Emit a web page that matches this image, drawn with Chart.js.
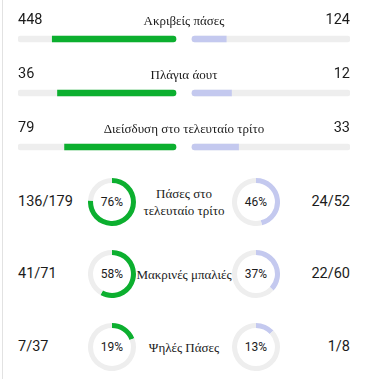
<!DOCTYPE html>
<html>
<head>
<meta charset="utf-8">
<script src="https://cdn.jsdelivr.net/npm/chart.js@4"></script>
<style>
  body { margin: 0; background: #fff; width: 366px; height: 379px; overflow: hidden; position: relative; }
  .edge { position: absolute; left: 2px; top: 0; width: 1px; height: 379px; background: #e2e2e2; }
  .num { position: absolute; font-family: Roboto, sans-serif; font-size: 14.5px; color: #1b1b1b; line-height: 18px; transform: translateY(-50%); }
  .lbl { position: absolute; font-family: "Liberation Serif", serif; font-size: 13px; color: #1b1b1b; line-height: 17px; text-align: center; transform: translate(-50%, -50%); }
  .pct { position: absolute; font-family: Roboto, sans-serif; font-size: 12px; color: #1b1b1b; transform: translate(-50%, -50%); }
  canvas { position: absolute; }
</style>
</head>
<body>
<div class="edge"></div>
<canvas id="bars" width="366" height="180" style="left:0;top:0"></canvas>
<div id="texts"></div>
<script>
const barLabels = ['Ακριβείς πάσες', 'Πλάγια άουτ', 'Διείσδυση στο τελευταίο τρίτο'];
const homeValues = [448, 36, 79];
const awayValues = [124, 12, 33];

const ringLabels = ['Πάσες στο τελευταίο τρίτο', 'Μακρινές μπαλιές', 'Ψηλές Πάσες'];
const homeMade = [136, 41, 7];
const homeTotal = [179, 71, 37];
const awayMade = [24, 22, 1];
const awayTotal = [52, 60, 8];

const green = '#0caf2f';
const lilac = '#c4c9ef';
const track = '#eeeeee';
const gap = 8 / 158;

const texts = document.getElementById('texts');
function addText(cls, html, style) {
  const d = document.createElement('div');
  d.className = cls;
  d.innerHTML = html;
  Object.assign(d.style, style);
  texts.appendChild(d);
}

// bar rows
const barRowY = [20, 74, 128];
barLabels.forEach((l, i) => {
  addText('num', homeValues[i], { left: '18px', top: barRowY[i] + 'px' });
  addText('num', awayValues[i], { right: '16px', top: barRowY[i] + 'px' });
  addText('lbl', l, { left: '184px', top: barRowY[i] + 'px', whiteSpace: 'nowrap' });
});

const share = (a, b) => a / (a + b);
new Chart(document.getElementById('bars'), {
  type: 'bar',
  data: {
    labels: barLabels,
    datasets: [
      {
        data: homeValues.map((v, i) => [-gap - share(v, awayValues[i]), -gap]),
        backgroundColor: green,
        borderRadius: { topLeft: 0, bottomLeft: 0, topRight: 3, bottomRight: 3 },
        borderSkipped: false, grouped: false, barThickness: 6
      },
      {
        data: awayValues.map((v, i) => [gap, gap + share(v, homeValues[i])]),
        backgroundColor: lilac,
        borderRadius: { topLeft: 3, bottomLeft: 3, topRight: 0, bottomRight: 0 },
        borderSkipped: false, grouped: false, barThickness: 6
      },
      {
        data: barLabels.map(() => [-1 - gap, -gap]),
        backgroundColor: track, borderRadius: 3,
        borderSkipped: false, grouped: false, barThickness: 6
      },
      {
        data: barLabels.map(() => [gap, 1 + gap]),
        backgroundColor: track, borderRadius: 3,
        borderSkipped: false, grouped: false, barThickness: 6
      }
    ]
  },
  options: {
    indexAxis: 'y',
    responsive: false,
    animation: false,
    layout: { padding: { left: 18, right: 16, top: 12, bottom: 6 } },
    scales: {
      x: { display: false, min: -1 - gap, max: 1 + gap },
      y: { display: false }
    },
    plugins: { legend: { display: false }, tooltip: { enabled: false } }
  }
});

// ring rows
const ringRowY = [202, 274, 347];
function ring(x, y, pct, color) {
  const c = document.createElement('canvas');
  c.width = 48; c.height = 48;
  c.style.left = (x - 24) + 'px';
  c.style.top = (y - 24) + 'px';
  document.body.appendChild(c);
  new Chart(c, {
    type: 'doughnut',
    data: {
      datasets: [{
        data: [pct, 100 - pct],
        backgroundColor: [color, track],
        borderWidth: 0
      }]
    },
    options: {
      responsive: false,
      animation: false,
      cutout: '79%',
      plugins: { legend: { display: false }, tooltip: { enabled: false } }
    }
  });
  addText('pct', pct + '%', { left: x + 'px', top: y + 'px' });
}

ringLabels.forEach((l, i) => {
  const y = ringRowY[i];
  const hp = Math.round(homeMade[i] / homeTotal[i] * 100);
  const ap = Math.round(awayMade[i] / awayTotal[i] * 100);
  addText('num', homeMade[i] + '/' + homeTotal[i], { left: '18px', top: y + 'px' });
  addText('num', awayMade[i] + '/' + awayTotal[i], { right: '16px', top: y + 'px' });
  addText('lbl', l, { left: '184px', top: y + 'px', width: '100px' });
  ring(112, y, hp, green);
  ring(256, y, ap, lilac);
});
</script>
</body>
</html>
